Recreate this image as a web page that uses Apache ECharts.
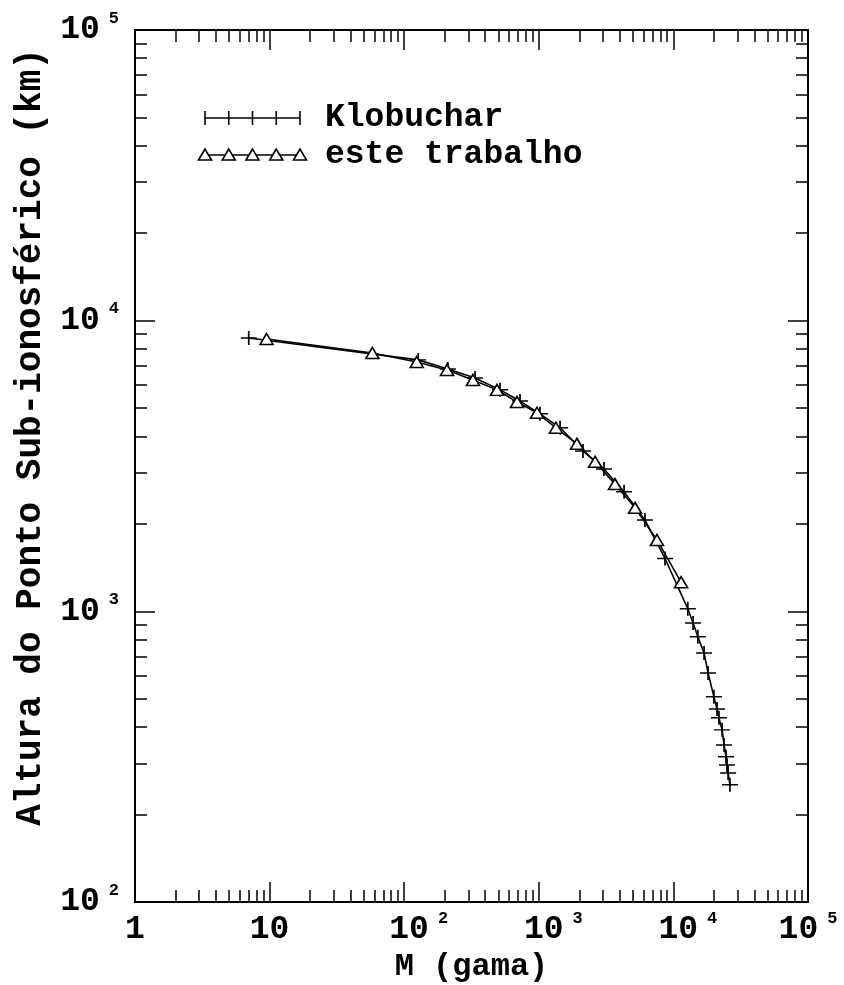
<!DOCTYPE html>
<html>
<head>
<meta charset="utf-8">
<script src="https://cdn.jsdelivr.net/npm/echarts@6/dist/echarts.min.js"></script>
<style>
  html, body { margin: 0; padding: 0; background: #fff; }
  #chart { width: 844px; height: 985px; }
</style>
</head>
<body>
<div id="chart"></div>
<script>
// Klobuchar model: field M (gama) vs. sub-ionospheric point height (km)
const kloM = [7.0, 127, 211, 336, 515, 725, 1020, 1440, 2130, 3050, 4300, 6150, 8660,
  12800, 14000, 15200, 16900, 18100, 20000, 21100, 21800, 23000, 23800, 24600, 25000, 25500, 26300];
const kloH = [8720, 7330, 6820, 6350, 5780, 5290, 4780, 4280, 3560, 3090, 2580, 2060, 1520,
  1020, 912, 817, 719, 614, 508, 461, 430, 391, 347, 316, 296, 278, 253];

// this work
const esteM = [9.5, 58, 124, 208, 324, 489, 689, 970, 1340, 1920, 2620, 3680, 5190, 7550, 11400];
const esteH = [8650, 7740, 7210, 6770, 6250, 5780, 5250, 4820, 4280, 3770, 3270, 2740, 2270, 1760, 1260];

// tick marks and labels
const xMajor = [1, 10, 100, 1000, 10000, 100000];
const yMajor = [100, 1000, 10000, 100000];
const minorMult = [2, 3, 4, 5, 6, 7, 8, 9];

const legendNames = ['Klobuchar', 'este trabalho'];
const xTitle = 'M (gama)';
const yTitle = 'Altura do Ponto Sub-ionosférico (km)';

function minorsBetween(lo, hi) {
  const out = [];
  for (let d = lo; d < hi; d *= 10) minorMult.forEach(m => out.push(d * m));
  return out;
}
const xMinor = minorsBetween(1, 100000);
const yMinor = minorsBetween(100, 100000);

const FONT = 'Liberation Mono';
const INK = '#000';

const rich = {
  b: { fontFamily: FONT, fontSize: 33, fontWeight: 'bold', color: INK, lineHeight: 40 },
  s: { fontFamily: FONT, fontSize: 17, fontWeight: 'bold', color: INK, verticalAlign: 'top', lineHeight: 40, padding: [0, 0, 0, 9] },
  p: { width: 29, lineHeight: 40 }
};

function expOf(v) { return Math.round(Math.log10(v)); }

function xLabel(v) {
  const e = expOf(v);
  if (e === 0) return '{b|1}';
  if (e === 1) return '{b|10}';
  // the last label is centred as a whole so it stays on the page
  if (e === 5) return '{b|10}{s|' + e + '}';
  return '{p|}{b|10}{s|' + e + '}';
}
function yLabel(v) {
  return '{b|10}{s|' + expOf(v) + '}';
}

const frame = { show: true, lineStyle: { color: INK, width: 2 } };

function xAxisDef(pos, values, len, labels) {
  return {
    type: 'log', logBase: 10, min: 1, max: 100000, position: pos,
    axisLine: frame,
    splitLine: { show: false },
    axisTick: { show: true, inside: true, length: len, customValues: values, lineStyle: { color: INK, width: 1.5 } },
    axisLabel: labels
      ? { show: true, customValues: xMajor, formatter: xLabel, rich: rich, margin: 8 }
      : { show: false },
    name: labels ? xTitle : '',
    nameLocation: 'middle', nameGap: 42,
    nameTextStyle: { fontFamily: FONT, fontSize: 32, fontWeight: 'bold', color: INK }
  };
}
function yAxisDef(pos, values, len, labels) {
  return {
    type: 'log', logBase: 10, min: 100, max: 100000, position: pos,
    axisLine: frame,
    splitLine: { show: false },
    axisTick: { show: true, inside: true, length: len, customValues: values, lineStyle: { color: INK, width: 1.5 } },
    axisLabel: labels
      ? { show: true, customValues: yMajor, formatter: yLabel, rich: rich, margin: 16 }
      : { show: false },
    name: labels ? yTitle : '',
    nameLocation: 'middle', nameGap: 80, nameRotate: 90,
    nameTextStyle: { fontFamily: FONT, fontSize: 36, fontWeight: 'bold', color: INK, padding: [0, 0, 0, 58] }
  };
}

const plusPath = 'path://M0,7 L16,7 M8,0 L8,14';

const series = [
  {
    name: legendNames[0], type: 'line',
    data: kloM.map((m, i) => [m, kloH[i]]),
    symbol: plusPath, symbolSize: [16, 14], symbolKeepAspect: false,
    lineStyle: { color: INK, width: 1.6 },
    itemStyle: { color: 'none', borderColor: INK, borderWidth: 1.6 },
    z: 3
  },
  {
    name: legendNames[1], type: 'line',
    data: esteM.map((m, i) => [m, esteH[i]]),
    symbol: 'triangle', symbolSize: [13, 11],
    lineStyle: { color: INK, width: 1.6 },
    itemStyle: { color: '#fff', borderColor: INK, borderWidth: 1.6 },
    z: 4
  }
];

// legend samples: a short line with five markers, followed by the series name
function legendRow(y, kind, label) {
  const x0 = 205, x1 = 300;
  const els = [{
    type: 'line', shape: { x1: x0, y1: y, x2: x1, y2: y },
    style: { stroke: INK, lineWidth: 1.6 }
  }];
  for (let k = 0; k < 5; k++) {
    const cx = x0 + k * (x1 - x0) / 4;
    if (kind === 'plus') {
      els.push({ type: 'line', shape: { x1: cx, y1: y - 7, x2: cx, y2: y + 7 }, style: { stroke: INK, lineWidth: 1.6 } });
    } else {
      els.push({ type: 'polygon', shape: { points: [[cx, y - 6], [cx - 6.5, y + 5], [cx + 6.5, y + 5]] },
        style: { fill: '#fff', stroke: INK, lineWidth: 1.6 } });
    }
  }
  els.push({
    type: 'text', x: 325, y: y,
    style: { text: label, fontFamily: FONT, fontSize: 33, fontWeight: 'bold', fill: INK, verticalAlign: 'middle', align: 'left' }
  });
  return els;
}

const chart = echarts.init(document.getElementById('chart'));
chart.setOption({
  animation: false,
  backgroundColor: '#fff',
  grid: { left: 135, right: 36, top: 30, bottom: 83, outerBoundsMode: 'none', containLabel: false },
  xAxis: [
    xAxisDef('bottom', xMajor, 20, true),
    xAxisDef('bottom', xMinor, 12, false),
    xAxisDef('top', xMajor, 20, false),
    xAxisDef('top', xMinor, 12, false)
  ],
  yAxis: [
    yAxisDef('left', yMajor, 20, true),
    yAxisDef('left', yMinor, 12, false),
    yAxisDef('right', yMajor, 20, false),
    yAxisDef('right', yMinor, 12, false)
  ],
  series: series,
  graphic: [].concat(legendRow(118, 'plus', legendNames[0]), legendRow(155, 'tri', legendNames[1]))
});
</script>
</body>
</html>
